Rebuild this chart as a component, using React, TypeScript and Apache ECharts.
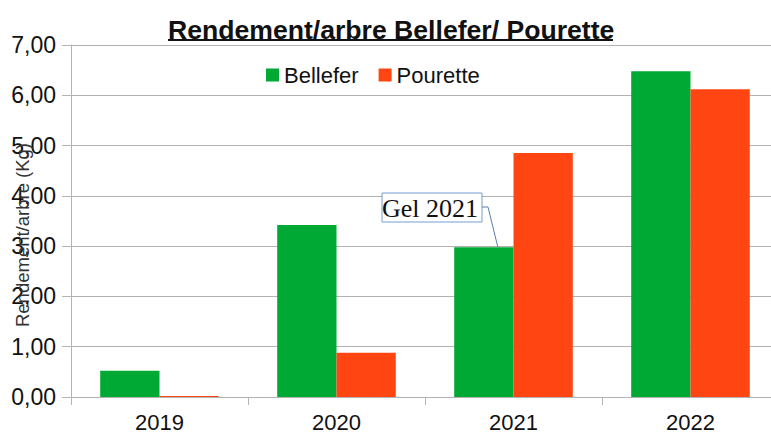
import React, { useEffect, useRef } from "react";
import * as echarts from "echarts";

const categories = ["2019", "2020", "2021", "2022"];
const bellefer = [0.52, 3.42, 2.98, 6.48];
const pourette = [0.02, 0.88, 4.85, 6.12];
const yTicks = [0, 1, 2, 3, 4, 5, 6, 7];
const titleText = "Rendement/arbre Bellefer/ Pourette";
const yAxisName = "Rendement/arbre (Kg)";
const calloutText = "Gel 2021";

export default function App() {
  const ref = useRef<HTMLDivElement>(null);
  useEffect(() => {
    if (!ref.current) return;
    const chart = echarts.init(ref.current, null, { renderer: "svg" });
    const gridLeft = 71;
    const gridTop = 45;
    const gridWidth = 708;
    const gridHeight = 352;
    chart.setOption({
      animation: false,
      backgroundColor: "#ffffff",
      textStyle: { fontFamily: "Liberation Sans" },
      title: {
        text: titleText,
        left: 163,
        top: 11,
        textStyle: {
          fontFamily: "Liberation Sans",
          fontWeight: "bold",
          fontSize: 26.6,
          color: "#111111",
        },
      },
      legend: {
        data: ["Bellefer", "Pourette"],
        left: 261,
        top: 59,
        itemWidth: 13,
        itemHeight: 13,
        itemGap: 20,
        icon: "rect",
        textStyle: {
          fontSize: 22,
          color: "#111111",
          fontFamily: "Liberation Sans",
        },
      },
      grid: {
        left: gridLeft,
        top: gridTop,
        width: gridWidth,
        height: gridHeight,
        containLabel: false,
        outerBoundsMode: "none",
      },
      xAxis: {
        type: "category",
        data: categories,
        axisLine: { lineStyle: { color: "#b3b3b3", width: 1 } },
        axisTick: { show: true, length: 8, lineStyle: { color: "#b3b3b3" } },
        axisLabel: { fontSize: 22, color: "#111111", margin: 14 },
      },
      yAxis: {
        type: "value",
        min: 0,
        max: 7,
        interval: 1,
        axisLine: { show: true, lineStyle: { color: "#b3b3b3" } },
        axisTick: { show: true, length: 9, lineStyle: { color: "#b3b3b3" } },
        splitLine: { lineStyle: { color: "#b3b3b3" } },
        axisLabel: {
          fontSize: 23,
          color: "#111111",
          margin: 15,
          formatter: (v: number) => (yTicks.includes(v) ? v.toFixed(2).replace(".", ",") : ""),
        },
      },
      series: [
        {
          name: "Bellefer",
          type: "bar",
          data: bellefer,
          itemStyle: { color: "#00a933" },
          barGap: "0%",
          barCategoryGap: "33%",
        },
        {
          name: "Pourette",
          type: "bar",
          data: pourette,
          itemStyle: { color: "#ff4512" },
          barGap: "0%",
          barCategoryGap: "33%",
        },
      ],
    });

    // annotations positioned from data coordinates
    const p2021 = chart.convertToPixel({ seriesIndex: 0 }, [2, bellefer[2]]) as number[];
    const bandW = gridWidth / categories.length;
    const barW = (bandW * (1 - 0.33)) / 2;
    const catCenter = chart.convertToPixel({ xAxisIndex: 0 }, 2) as unknown as number;
    const barCenterX = catCenter - barW / 2;
    const tipX = barCenterX + 14;
    const tipY = p2021[1];
    const boxX = 382;
    const boxY = 193;
    const boxW = 100;
    const boxH = 29;
    chart.setOption({
      graphic: [
        {
          type: "line",
          shape: { x1: 168, y1: 40, x2: 613, y2: 40 },
          style: { stroke: "#111111", lineWidth: 2 },
        },
        {
          type: "text",
          x: 22,
          y: 235,
          rotation: Math.PI / 2,
          style: {
            text: yAxisName,
            fontFamily: "Liberation Sans",
            fontSize: 18.5,
            fill: "#333333",
            align: "center",
            verticalAlign: "middle",
          },
          z: 20,
        },
        {
          type: "rect",
          shape: { x: boxX, y: boxY, width: boxW, height: boxH },
          style: { fill: "#ffffff", stroke: "#729fcf", lineWidth: 1 },
          z: 10,
        },
        {
          type: "text",
          x: boxX + boxW / 2 - 2,
          y: boxY + boxH / 2 + 1,
          style: {
            text: calloutText,
            fontFamily: "Liberation Serif",
            fontSize: 26,
            fill: "#111111",
            align: "center",
            verticalAlign: "middle",
          },
          z: 11,
        },
        {
          type: "polyline",
          shape: { points: [[boxX + boxW, boxY + 14], [boxX + boxW + 6, boxY + 14], [tipX, tipY]] },
          style: { stroke: "#5b7fb5", lineWidth: 1, fill: "none" },
          z: 10,
        },
      ],
    });
    return () => chart.dispose();
  }, []);
  return (
    <div
      ref={ref}
      style={{ position: "fixed", left: 0, top: 0, width: 771, height: 433, overflow: "hidden" }}
    />
  );
}
